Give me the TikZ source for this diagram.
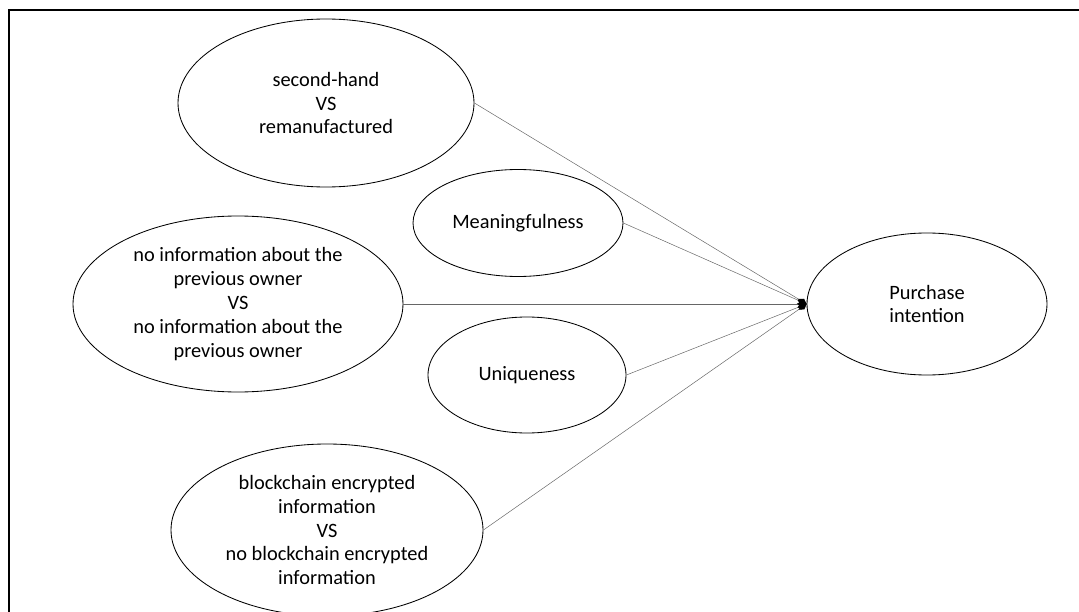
\documentclass[tikz,border=0pt]{standalone}
\usepackage{fontspec}
\setmainfont{Carlito}
\usetikzlibrary{shapes.geometric, arrows.meta}

\begin{document}
\begin{tikzpicture}[
    factor/.style={
        draw=black, ellipse, line width=0.6pt,
        inner sep=0pt, align=center,
        font=\fontsize{14.5}{17}\selectfont
    },
    link/.style={
        -{Diamond[length=7pt, width=4.5pt, black]},
        draw=black!60, line width=0.35pt
    },
]

% page size and outer frame
\useasboundingbox (0,0) rectangle (26.975,-15.3);
\begin{scope}
    \clip (0,0) rectangle (26.975,-15.3);
    \draw[line width=1.3pt] (0.225,-16) -- (0.225,-0.25) -- (28,-0.25);
\end{scope}

%% predictors
\node[factor, minimum width=7.4cm, minimum height=4.2cm] (used)
    at (8.15, -2.575)
    {second-hand\\VS\\remanufactured};

\node[factor, minimum width=5.25cm, minimum height=2.675cm] (meaning)
    at (12.95, -5.575)
    {Meaningfulness};

\node[factor, minimum width=8.25cm, minimum height=4.4cm] (owner)
    at (5.95, -7.6)
    {no information about the\\previous owner\\VS\\no information about the\\previous owner};

\node[factor, minimum width=4.95cm, minimum height=2.9cm] (unique)
    at (13.175, -9.375)
    {Uniqueness};

\node[factor, minimum width=7.8cm, minimum height=4.3cm] (chain)
    at (8.175, -13.25)
    {blockchain encrypted\\information\\VS\\no blockchain encrypted\\information};

%% outcome
\node[factor, minimum width=6cm, minimum height=3.55cm] (intent)
    at (23.175, -7.6)
    {Purchase\\intention};

%% paths into the outcome
\draw[link] (used.east) -- (intent.west);
\draw[link] (meaning.east) -- (intent.west);
\draw[link] (owner.east) -- (intent.west);
\draw[link] (unique.east) -- (intent.west);
\draw[link] (chain.east) -- (intent.west);

\end{tikzpicture}
\end{document}
